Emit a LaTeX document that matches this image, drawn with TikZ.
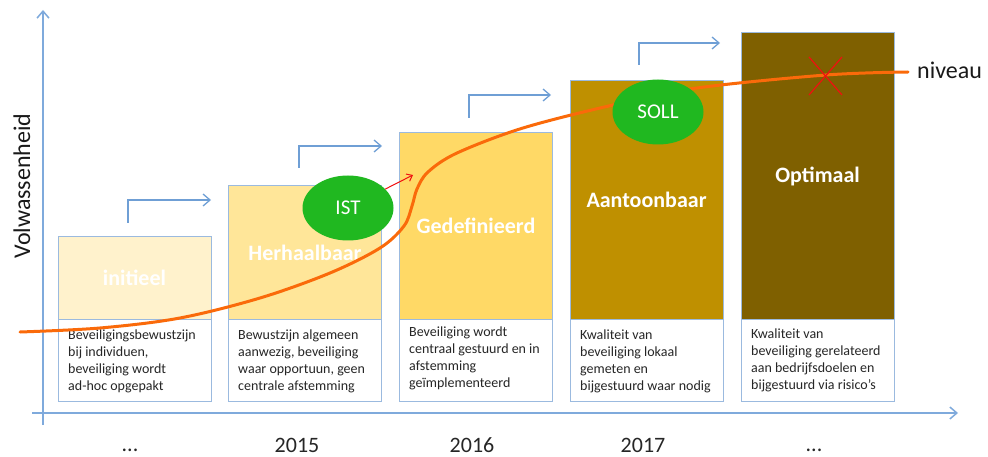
\documentclass[tikz,border=0pt]{standalone}
\usepackage{fontspec}
\setmainfont{Carlito}
\usetikzlibrary{arrows.meta,shapes.geometric}
\definecolor{bord}{HTML}{9BBADF}
\definecolor{axisc}{HTML}{7FAADC}
\definecolor{stepc}{HTML}{6F9FD5}
\definecolor{fa}{HTML}{FFF2CC}
\definecolor{fb}{HTML}{FFE699}
\definecolor{fc}{HTML}{FFD966}
\definecolor{fd}{HTML}{BF9000}
\definecolor{fe}{HTML}{7F6000}
\definecolor{greenc}{HTML}{20B820}
\definecolor{orangec}{HTML}{FA6A0A}
\definecolor{redc}{HTML}{F01010}
\begin{document}
\begin{tikzpicture}[x=1pt,y=-1pt,
  levelbox/.style={draw=bord, line width=1pt, minimum width=153pt, inner sep=0pt,
    text=white, font=\fontsize{22}{26}\selectfont\bfseries},
  descbox/.style={draw=bord, line width=1pt, fill=white, minimum width=153pt, minimum height=82pt, inner sep=0pt},
  desctext/.style={anchor=west, align=left, inner sep=0pt, font=\fontsize{14}{17}\selectfont, text=black!85},
  stepar/.style={draw=stepc, line width=1.3pt, -{Straight Barb[length=7pt,width=12pt]}},
  axisar/.style={draw=axisc, line width=1.5pt, -{Straight Barb[length=7pt,width=12pt]}},
  goal/.style={ellipse, fill=greenc, minimum width=91pt, minimum height=65pt, inner sep=0pt,
    text=white, font=\fontsize{21}{24}\selectfont},
  yearlbl/.style={font=\fontsize{22}{26}\selectfont, text=black!85, anchor=base, inner sep=0pt}
]
\useasboundingbox (0,0) rectangle (988,457);

% axes
\coordinate (yb) at (43,425);
\coordinate (yt) at (43,10);
\coordinate (xl) at (32,413);
\coordinate (xr) at (958,413);
\draw[axisar] (yb) -- (yt);
\draw[axisar] (xl) -- (xr);

% level boxes
\node[levelbox, fill=fa, minimum height=82pt]  (b1) at (134.5,278) {initieel};
\node[levelbox, fill=fb, minimum height=133pt] (b2) at (305,252.5) {Herhaalbaar};
\node[levelbox, fill=fc, minimum height=186pt] (b3) at (476,226) {Gedefinieerd};
\node[levelbox, fill=fd, minimum height=238pt] (b4) at (646.5,200) {Aantoonbaar};
\node[levelbox, fill=fe, minimum height=286pt] (b5) at (817.5,176) {Optimaal};

% description boxes
\node[descbox] (d1) at (134.5,360) {};
\node[descbox] (d2) at (305,360) {};
\node[descbox] (d3) at (476,360) {};
\node[descbox] (d4) at (646.5,360) {};
\node[descbox] (d5) at (817.5,360) {};
\node[desctext] (t1) at (68,361) {Beveiligingsbewustzijn\\bij individuen,\\beveiliging wordt\\ad-hoc opgepakt};
\node[desctext] (t2) at (238,361) {Bewustzijn algemeen\\aanwezig, beveiliging\\waar opportuun, geen\\centrale afstemming};
\node[desctext] (t3) at (409,358) {Beveiliging wordt\\centraal gestuurd en in\\afstemming\\geïmplementeerd};
\node[desctext] (t4) at (580,361) {Kwaliteit van\\beveiliging lokaal\\gemeten en\\bijgestuurd waar nodig};
\node[desctext] (t5) at (751,360) {Kwaliteit van\\beveiliging gerelateerd\\aan bedrijfsdoelen en\\bijgestuurd via risico’s};

% step arrows
\coordinate (s1a) at (128,223); \coordinate (s1b) at (211,200);
\coordinate (s2a) at (299,168); \coordinate (s2b) at (382,146);
\coordinate (s3a) at (469,118); \coordinate (s3b) at (551,95);
\coordinate (s4a) at (639,65);  \coordinate (s4b) at (720,43);
\draw[stepar] (s1a) |- (s1b);
\draw[stepar] (s2a) |- (s2b);
\draw[stepar] (s3a) |- (s3b);
\draw[stepar] (s4a) |- (s4b);

% maturity curve
\draw[orangec, line width=3pt, line cap=round]
  plot[smooth, tension=0.55] coordinates {(20,332) (100,328) (180,318) (260,298) (330,273) (380,248) (404,226) (412,206) (417,189) (428,172) (457,153) (523,128) (613,105) (697,88) (826,75) (908,72)};

% goals
\node[goal] (ist) at (348,208) {IST};
\node[goal] (soll) at (658,112) {SOLL};
\coordinate (ra) at (413,175);
\draw[redc, line width=1pt, -{Straight Barb[length=5pt,width=8pt]}] (ist) -- (ra);

% cross
\draw[redc, line width=1.2pt] (809,57) -- (842,95);
\draw[redc, line width=1.2pt] (842,57) -- (809,95);

% labels
\node[anchor=west, inner sep=0pt, font=\fontsize{24}{28}\selectfont, text=black!90] (niv) at (917,70) {niveau};
\node[rotate=90, inner sep=0pt, font=\fontsize{24}{28}\selectfont, text=black!90] (vol) at (22,186) {Volwassenheid};
\node[yearlbl] (y0) at (130,451) {...};
\node[yearlbl] (y1) at (297,452) {2015};
\node[yearlbl] (y2) at (472,452) {2016};
\node[yearlbl] (y3) at (643,452) {2017};
\node[yearlbl] (y4) at (814,451) {...};
\end{tikzpicture}
\end{document}
